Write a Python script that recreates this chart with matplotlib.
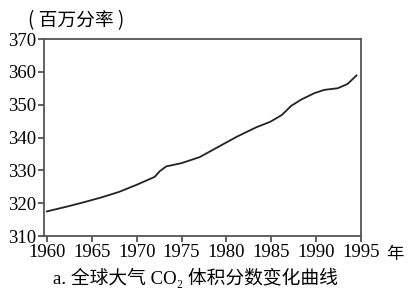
import matplotlib
matplotlib.use("Agg")
import matplotlib.pyplot as plt

plt.rcParams['font.family'] = ['Liberation Serif', 'Noto Sans CJK SC']

# values (ppm)
years = [1960, 1962, 1964, 1966, 1968, 1970, 1971, 1972, 1972.6, 1973.3, 1974, 1975,
         1977, 1978.6, 1981.2, 1983.4, 1984.9, 1986.2, 1987.2, 1988.3, 1989.8,
         1990.9, 1992.4, 1993.5, 1994.5]
co2 = [317.5, 318.8, 320.2, 321.7, 323.4, 325.6, 326.8, 328.0, 329.8, 331.2, 331.6, 332.2,
       334.0, 336.4, 340.3, 343.2, 344.8, 346.9, 349.6, 351.5, 353.5,
       354.5, 355.0, 356.3, 358.9]

xticks = [1960, 1965, 1970, 1975, 1980, 1985, 1990, 1995]
yticks = [310, 320, 330, 340, 350, 360, 370]

W, H = 408, 292
fig = plt.figure(figsize=(W / 100, H / 100), dpi=100)
ax = fig.add_axes([44 / W, 1 - 236 / H, (361 - 44) / W, (236 - 39) / H])

ax.plot(years, co2, color='#222222', lw=1.3)
ax.set_xlim(1959.67, 1995)
ax.set_ylim(310, 370)
ax.set_xticks(xticks)
ax.set_yticks(yticks)
ax.tick_params(direction='out', length=4, width=1.2, color='#444444', labelsize=13.5, pad=1.5)
for s in ax.spines.values():
    s.set_color('#555555')
    s.set_linewidth(1.3)

cjk = ['Noto Sans CJK SC', 'Liberation Serif']
fig.text(28 / W, 1 - 21 / H, '( 百万分率 )', fontsize=13.5, va='center', ha='left',
         family=cjk)
fig.text(395 / W, 1 - 254 / H, '年', fontsize=12.5, va='center', ha='center', family=cjk)
fig.text(195 / W, 1 - 278 / H, 'a. 全球大气 CO₂ 体积分数变化曲线', fontsize=13.5,
         va='center', ha='center', family=['Liberation Serif', 'Noto Sans CJK SC'])

fig.savefig('out.png', dpi=100)
